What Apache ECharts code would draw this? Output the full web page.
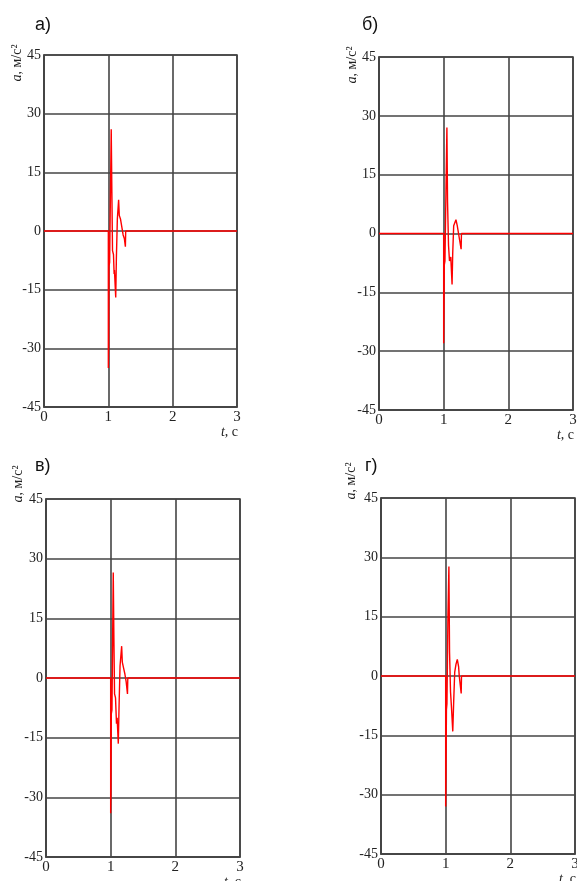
<!DOCTYPE html>
<html>
<head>
<meta charset="utf-8">
<script src="https://cdn.jsdelivr.net/npm/echarts@6/dist/echarts.min.js"></script>
<style>
  html, body { margin: 0; padding: 0; background: #fff; }
  #chart { width: 577px; height: 881px; }
</style>
</head>
<body>
<div id="chart"></div>
<script>
// axis ticks (same for all four panels)
var yTicks = [-45, -30, -15, 0, 15, 30, 45];
var xTicks = [0, 1, 2, 3];
var panelNames = ["а)", "б)", "в)", "г)"];

// panel а
var timeA = [0, 1.0, 1.0, 1.005, 1.01, 1.02, 1.045, 1.055, 1.065, 1.08, 1.09, 1.095, 1.115, 1.125, 1.14, 1.16, 1.17, 1.19, 1.21, 1.23, 1.25, 1.265, 1.27, 3];
var accA  = [0, 0, -35, -29, -9, -8, 26, 10, -5, -6, -11, -10, -17, -7, 3, 8, 4, 3, 1, -1, -2, -4, 0, 0];
// panel б
var timeB = [0, 1.0, 1.0, 1.005, 1.01, 1.02, 1.05, 1.06, 1.075, 1.09, 1.11, 1.13, 1.14, 1.155, 1.17, 1.19, 1.21, 1.23, 1.25, 1.27, 1.275, 3];
var accB  = [0, 0, -28, -20, -8, -7, 27, 8, -3, -7, -6, -13, -5, 2, 2.5, 3.5, 2, 0, -2, -4, 0, 0];
// panel в
var timeC = [0, 1.0, 1.0, 1.005, 1.01, 1.02, 1.04, 1.05, 1.06, 1.075, 1.09, 1.1, 1.118, 1.13, 1.145, 1.17, 1.18, 1.2, 1.22, 1.24, 1.26, 1.265, 3];
var accC  = [0, 0, -34, -28, -9, -8, 26.5, 10, -4, -5, -11.5, -10, -16.5, -7, 3, 8, 4, 2.5, 1, -1, -4, 0, 0];
// panel г
var timeD = [0, 1.0, 1.0, 1.005, 1.012, 1.02, 1.035, 1.05, 1.06, 1.075, 1.09, 1.11, 1.125, 1.14, 1.16, 1.18, 1.2, 1.21, 1.24, 1.245, 3];
var accD  = [0, 0, -33, -25, -8.5, -7, 15, 27.7, 6, -4, -8, -14, -6, 1, 3, 4.2, 2.4, 0, -4.4, 0, 0];

var times = [timeA, timeB, timeC, timeD];
var accs = [accA, accB, accC, accD];

// layout of each panel: [left, top, width, height]
var boxes = [
    [44, 55, 193, 352],
    [379, 57, 194, 353],
    [46, 499, 194, 358],
    [381, 498, 194, 356]
];
var panelLabelPos = [[35, 25], [362, 25], [35, 466], [365, 466]];
var yNamePos = [[17, 63], [352, 65], [18, 484], [351, 481]];

function zip(xs, ys) {
    var out = [];
    for (var i = 0; i < xs.length; i++) out.push([xs[i], ys[i]]);
    return out;
}

var gridColor = '#444';
var textColor = '#222';
var serif = '"Liberation Serif", "DejaVu Serif", serif';

var grids = [], xAxes = [], yAxes = [], series = [], graphics = [];
for (var i = 0; i < 4; i++) {
    var b = boxes[i];
    grids.push({left: b[0], top: b[1], width: b[2], height: b[3], outerBoundsMode: 'none', containLabel: false});
    xAxes.push({
        type: 'value', gridIndex: i,
        min: xTicks[0], max: xTicks[xTicks.length - 1], interval: 1,
        axisLine: {show: true, onZero: false, lineStyle: {color: gridColor, width: 1.6}},
        axisTick: {show: false},
        splitLine: {show: true, lineStyle: {color: gridColor, width: 1.6}},
        axisLabel: {color: textColor, fontFamily: serif, fontSize: 15, margin: 3}
    });
    yAxes.push({
        type: 'value', gridIndex: i,
        min: yTicks[0], max: yTicks[yTicks.length - 1], interval: 15,
        axisLine: {show: true, lineStyle: {color: gridColor, width: 1.6}},
        axisTick: {show: false},
        splitLine: {show: true, lineStyle: {color: gridColor, width: 1.6}},
        axisLabel: {color: textColor, fontFamily: serif, fontSize: 14, margin: 3}
    });
    series.push({
        type: 'line', xAxisIndex: i, yAxisIndex: i,
        data: zip(times[i], accs[i]),
        showSymbol: false,
        lineStyle: {color: '#ff0000', width: 1.4},
        z: 5
    });
    // right & top border
    graphics.push({
        type: 'rect', silent: true,
        shape: {x: b[0], y: b[1], width: b[2], height: b[3]},
        style: {fill: 'none', stroke: gridColor, lineWidth: 1.6}, z: 1
    });
    graphics.push({
        type: 'text',
        x: panelLabelPos[i][0], y: panelLabelPos[i][1],
        style: {text: panelNames[i], fill: '#111', font: '18px "Liberation Sans", sans-serif', verticalAlign: 'middle'}
    });
    graphics.push({
        type: 'text',
        x: yNamePos[i][0], y: yNamePos[i][1], rotation: Math.PI / 2,
        style: {
            text: '{i|a}, м/с²',
            fill: textColor,
            align: 'center', verticalAlign: 'middle',
            font: '14px ' + serif,
            rich: {i: {fontStyle: 'italic', fontSize: 14, fontFamily: serif, fill: textColor}}
        }
    });
    graphics.push({
        type: 'text',
        x: b[0] + b[2] + 1, y: b[1] + b[3] + 25,
        style: {
            text: '{i|t}, c',
            fill: textColor,
            align: 'right', verticalAlign: 'middle',
            font: '14px ' + serif,
            rich: {i: {fontStyle: 'italic', fontSize: 14, fontFamily: serif, fill: textColor}}
        }
    });
}

var chart = echarts.init(document.getElementById('chart'));
chart.setOption({
    animation: false,
    backgroundColor: '#fff',
    grid: grids,
    xAxis: xAxes,
    yAxis: yAxes,
    series: series,
    graphic: graphics
});
</script>
</body>
</html>
